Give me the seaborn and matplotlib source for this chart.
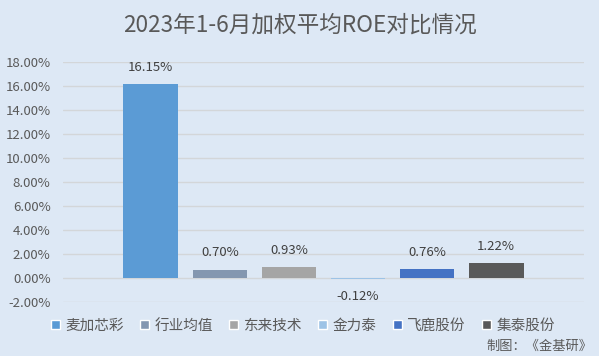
import matplotlib
matplotlib.use("Agg")
import matplotlib.pyplot as plt
import seaborn as sns
from matplotlib.patches import Patch
from matplotlib.ticker import FuncFormatter

# data
companies = ["麦加芯彩", "行业均值", "东来技术", "金力泰", "飞鹿股份", "集泰股份"]
roe = [16.15, 0.70, 0.93, -0.12, 0.76, 1.22]
colors = ["#5b9bd5", "#8497b0", "#a5a5a5", "#9dc3e6", "#4472c4", "#595959"]
title = "2023年1-6月加权平均ROE对比情况"
note = "制图：《金基研》"

bg = "#dde8f5"
sns.set_theme(style="white")
plt.rcParams['font.family'] = ['Noto Sans CJK SC', 'DejaVu Sans']

fig = plt.figure(figsize=(5.99, 3.56), dpi=100, facecolor=bg)
ax = fig.add_axes([63 / 599, 54 / 356, 521 / 599, 240 / 356])
ax.set_facecolor(bg)

sns.barplot(x=companies, y=roe, hue=companies, palette=colors, width=0.79,
            dodge=False, legend=False, saturation=1, linewidth=0, ax=ax)

ax.set_xlim(-1.27, 6.27)
ax.set_ylim(-2, 18)
ax.set_yticks(range(-2, 19, 2))
ax.yaxis.set_major_formatter(FuncFormatter(lambda v, p: f"{v:.2f}%"))
ax.tick_params(axis='y', labelsize=9.5, colors="#595959", length=0, pad=9)
ax.set_xticks([])
ax.grid(axis='y', color="#d3d6d9", linewidth=1)
ax.set_axisbelow(True)
for s in ax.spines.values():
    s.set_visible(False)
ax.set_xlabel("")
ax.set_ylabel("")

for i, v in enumerate(roe):
    if v >= 0:
        ax.annotate(f"{v:.2f}%", (i, v), xytext=(0, 12), textcoords="offset points",
                    ha="center", va="center", fontsize=9.5, color="#404040")
    else:
        ax.annotate(f"{v:.2f}%", (i, v), xytext=(0, -12), textcoords="offset points",
                    ha="center", va="center", fontsize=9.5, color="#404040")

fig.text(0.5, 1 - 25 / 356, title, ha="center", va="center", fontsize=16.3, color="#595959")

handles = [Patch(facecolor=c, label=n) for n, c in zip(companies, colors)]
fig.legend(handles=handles, loc="center", bbox_to_anchor=(303 / 599, 1 - 326 / 356), ncol=6,
           frameon=False, fontsize=10.5, handlelength=0.6, handleheight=0.6,
           handletextpad=0.4, columnspacing=1.1, labelcolor="#595959")

fig.text(592 / 599, 1 - 346 / 356, note, ha="right", va="center", fontsize=9.5, color="#595959")

fig.savefig("out.png", dpi=100, facecolor=bg)
